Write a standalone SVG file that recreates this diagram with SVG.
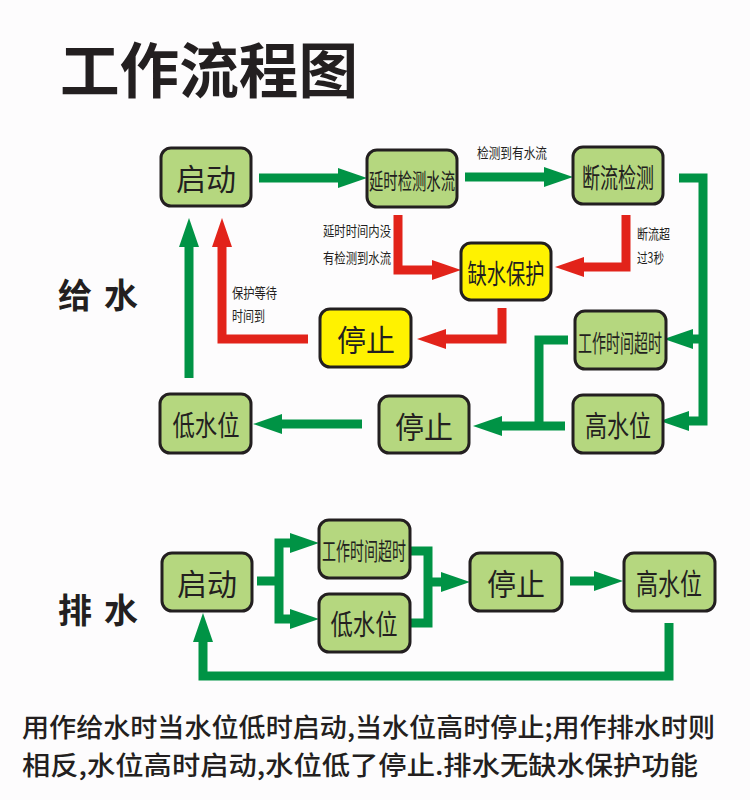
<svg xmlns="http://www.w3.org/2000/svg" width="750" height="800" viewBox="0 0 750 800">
<defs>
<style>
.n rect{fill:#b5d77f;stroke:#231f20;stroke-width:3}
.y rect{fill:#fff200;stroke:#231f20;stroke-width:3}
text{font-family:"Noto Sans CJK SC","Noto Sans",sans-serif;fill:#231f20;dominant-baseline:central}
.n text,.y text{text-anchor:middle}
.lbl{font-size:14px}
.cg{fill:none;stroke:#009345;stroke-width:9;stroke-linejoin:miter}
.cr{fill:none;stroke:#e2231a;stroke-width:9;stroke-linejoin:miter}
.cg.a{marker-end:url(#hg)}
.cr.a{marker-end:url(#hr)}
</style>
<marker id="hg" viewBox="-1 -11 31 22" refX="0" refY="0" markerWidth="31" markerHeight="22" markerUnits="userSpaceOnUse" orient="auto-start-reverse"><path d="M-1,-10 L28,0 L-1,10 Z" fill="#009345"/></marker>
<marker id="hr" viewBox="-1 -11 31 22" refX="0" refY="0" markerWidth="31" markerHeight="22" markerUnits="userSpaceOnUse" orient="auto-start-reverse"><path d="M-1,-10 L28,0 L-1,10 Z" fill="#e2231a"/></marker>
</defs>
<rect width="750" height="800" fill="#fdfcfd"/>
<text x="60" y="66" font-size="60" font-weight="700" textLength="298" lengthAdjust="spacingAndGlyphs">工作流程图</text>
<text x="58" y="293" font-size="34" font-weight="700" textLength="80" lengthAdjust="spacing">给水</text>
<text x="58" y="608" font-size="34" font-weight="700" textLength="80" lengthAdjust="spacing">排水</text>

<g id="connectors">
<path class="cg a" d="M259,178 H339"/>
<path class="cg a" d="M465,177 H545"/>
<path class="cr a" d="M398,215 V270 H433"/>
<path class="cr a" d="M626,215 V267 H583"/>
<path class="cr a" d="M502,308 V339 H445"/>
<path class="cr a" d="M308,339 H222 V246"/>
<path class="cg a" d="M189,378 V246"/>
<path class="cg a" d="M679,178 H703 V421 H688"/>
<path class="cg a" d="M703,339 H692"/>
<path class="cg" d="M568,340 H539 V426"/>
<path class="cg a" d="M565,426 H501"/>
<path class="cg a" d="M362,424 H281"/>
<path class="cg" d="M257,581 H279"/>
<path class="cg" d="M291,543 H279 V619 H291" marker-start="url(#hg)" marker-end="url(#hg)"/>
<path class="cg" d="M410,551 H428 V623 H410"/>
<path class="cg a" d="M428,582 H442"/>
<path class="cg a" d="M570,581 H595"/>
<path class="cg a" d="M669,623 V676 H203 V641"/>
<text class="lbl" x="477" y="152" textLength="70" lengthAdjust="spacingAndGlyphs">检测到有水流</text>
<text class="lbl" x="323" y="230" textLength="68" lengthAdjust="spacingAndGlyphs">延时时间内没</text>
<text class="lbl" x="323" y="257" textLength="68" lengthAdjust="spacingAndGlyphs">有检测到水流</text>
<text class="lbl" x="637" y="233" textLength="33" lengthAdjust="spacingAndGlyphs">断流超</text>
<text class="lbl" x="637" y="257" textLength="27" lengthAdjust="spacingAndGlyphs">过3秒</text>
<text class="lbl" x="232" y="292" textLength="45" lengthAdjust="spacingAndGlyphs">保护等待</text>
<text class="lbl" x="232" y="315" textLength="33" lengthAdjust="spacingAndGlyphs">时间到</text>
</g>

<g id="start1" class="n"><rect x="161" y="148" width="90" height="58" rx="10"/><text x="206" y="177" font-size="30" textLength="60" lengthAdjust="spacingAndGlyphs">启动</text></g>
<g id="delay" class="n"><rect x="367" y="150" width="90" height="57" rx="10"/><text x="412" y="179" font-size="22" textLength="86" lengthAdjust="spacingAndGlyphs">延时检测水流</text></g>
<g id="cutoff" class="n"><rect x="573" y="147" width="90" height="57" rx="10"/><text x="618" y="176" font-size="27" textLength="72" lengthAdjust="spacingAndGlyphs">断流检测</text></g>
<g id="protect" class="y"><rect x="461" y="243" width="90" height="57" rx="10"/><text x="506" y="272" font-size="27" textLength="77" lengthAdjust="spacingAndGlyphs">缺水保护</text></g>
<g id="stopY" class="y"><rect x="320" y="309" width="91" height="58" rx="10"/><text x="366" y="338" font-size="30" textLength="58" lengthAdjust="spacingAndGlyphs">停止</text></g>
<g id="timeout1" class="n"><rect x="575" y="311" width="91" height="58" rx="10"/><text x="620" y="341" font-size="24" textLength="84" lengthAdjust="spacingAndGlyphs">工作时间超时</text></g>
<g id="high1" class="n"><rect x="573" y="395" width="90" height="58" rx="10"/><text x="618" y="424" font-size="29" textLength="66" lengthAdjust="spacingAndGlyphs">高水位</text></g>
<g id="stop1" class="n"><rect x="379" y="396" width="90" height="57" rx="10"/><text x="424" y="425" font-size="30" textLength="58" lengthAdjust="spacingAndGlyphs">停止</text></g>
<g id="low1" class="n"><rect x="160" y="394" width="91" height="59" rx="10"/><text x="206" y="424" font-size="28" textLength="67" lengthAdjust="spacingAndGlyphs">低水位</text></g>

<g id="start2" class="n"><rect x="162" y="553" width="90" height="58" rx="10"/><text x="207" y="582" font-size="30" textLength="60" lengthAdjust="spacingAndGlyphs">启动</text></g>
<g id="timeout2" class="n"><rect x="319" y="520" width="91" height="58" rx="10"/><text x="364" y="549" font-size="24" textLength="84" lengthAdjust="spacingAndGlyphs">工作时间超时</text></g>
<g id="low2" class="n"><rect x="319" y="594" width="91" height="58" rx="10"/><text x="364" y="623" font-size="28" textLength="67" lengthAdjust="spacingAndGlyphs">低水位</text></g>
<g id="stop2" class="n"><rect x="470" y="553" width="92" height="58" rx="10"/><text x="516" y="582" font-size="30" textLength="58" lengthAdjust="spacingAndGlyphs">停止</text></g>
<g id="high2" class="n"><rect x="624" y="553" width="91" height="58" rx="10"/><text x="669" y="582" font-size="29" textLength="66" lengthAdjust="spacingAndGlyphs">高水位</text></g>

<text x="22" y="725" font-size="26" font-weight="500" textLength="693" lengthAdjust="spacingAndGlyphs">用作给水时当水位低时启动,当水位高时停止;用作排水时则</text>
<text x="22" y="763" font-size="26" font-weight="500" textLength="676" lengthAdjust="spacingAndGlyphs">相反,水位高时启动,水位低了停止.排水无缺水保护功能</text>
</svg>
